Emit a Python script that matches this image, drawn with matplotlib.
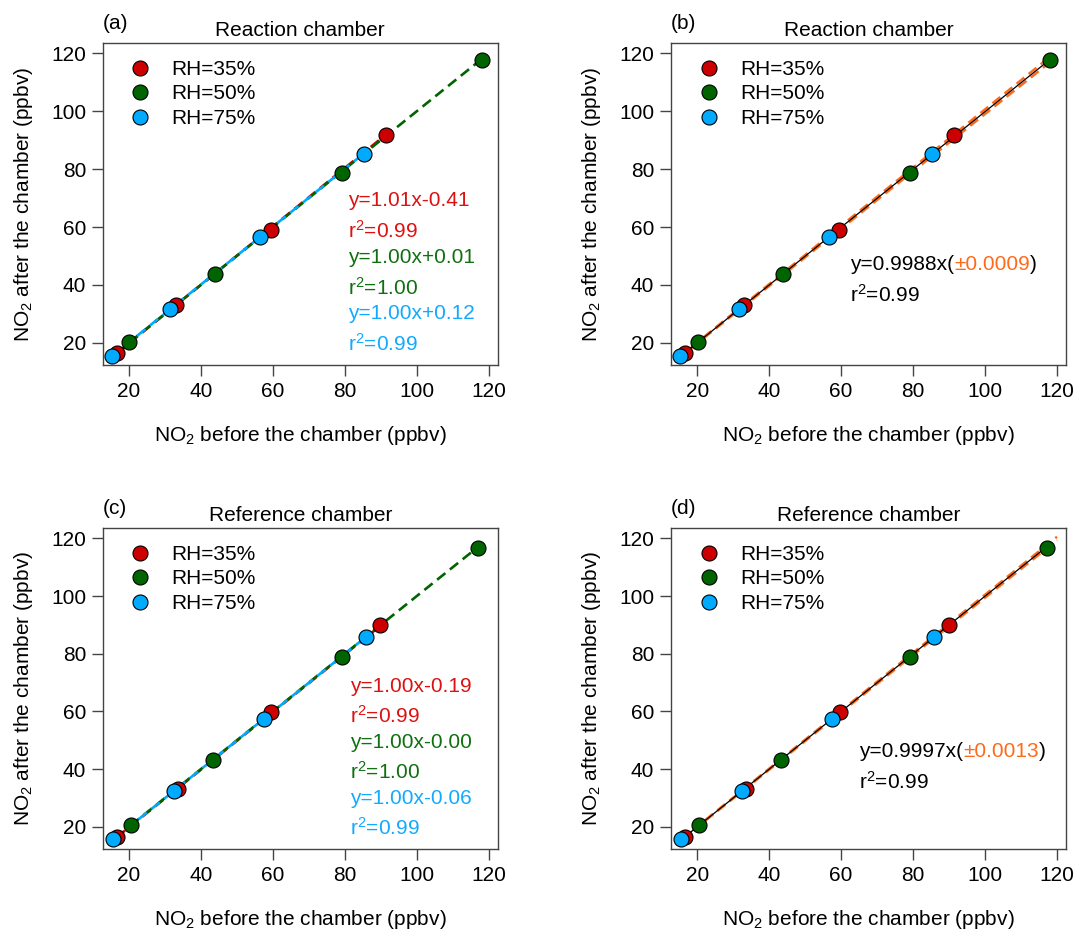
import matplotlib
matplotlib.use("Agg")
import matplotlib.pyplot as plt
import numpy as np

plt.rcParams['font.family'] = ['Liberation Sans', 'DejaVu Sans']
plt.rcParams['mathtext.default'] = 'regular'
plt.rcParams['mathtext.fontset'] = 'custom'
plt.rcParams['mathtext.rm'] = 'Liberation Sans'

# ---------------- data ----------------
rh_labels = ["RH=35%", "RH=50%", "RH=75%"]
rh_colors = ["#CC0000", "#006400", "#00AAFF"]
text_colors = ["#DD1111", "#107010", "#11AAFF"]
orange = "#FF6A1A"

# Reaction chamber (panels a, b)
react_x35 = [16.6, 33.0, 59.4, 91.5]
react_y35 = [16.4, 32.9, 59.1, 91.7]
react_x50 = [20.1, 43.8, 79.1, 118.1]
react_y50 = [20.2, 43.9, 78.8, 117.6]
react_x75 = [15.2, 31.5, 56.5, 85.2]
react_y75 = [15.3, 31.5, 56.7, 85.2]

# Reference chamber (panels c, d)
ref_x35 = [16.6, 33.5, 59.6, 89.9]
ref_y35 = [16.5, 33.1, 59.8, 90.0]
ref_x50 = [20.5, 43.3, 79.2, 117.1]
ref_y50 = [20.6, 43.2, 79.0, 116.8]
ref_x75 = [15.6, 32.4, 57.4, 85.9]
ref_y75 = [15.6, 32.3, 57.3, 85.8]

# Per-RH linear fits (slope, intercept) and labels
react_fits = [(1.01, -0.41), (1.00, 0.01), (1.00, 0.12)]
react_fit_text = [("y=1.01x-0.41", "r$^2$=0.99"),
                  ("y=1.00x+0.01", "r$^2$=1.00"),
                  ("y=1.00x+0.12", "r$^2$=0.99")]
ref_fits = [(1.00, -0.19), (1.00, -0.00), (1.00, -0.06)]
ref_fit_text = [("y=1.00x-0.19", "r$^2$=0.99"),
                ("y=1.00x-0.00", "r$^2$=1.00"),
                ("y=1.00x-0.06", "r$^2$=0.99")]

# Pooled fits through origin (slope, band slope offset) and labels
react_pool = (0.9988, 0.008)
react_pool_text = ("y=0.9988x(", "\u00b10.0009", ")", "r$^2$=0.99")
react_pool_range = (15.0, 118.0)
ref_pool = (0.9997, 0.005)
ref_pool_text = ("y=0.9997x(", "\u00b10.0013", ")", "r$^2$=0.99")
ref_pool_range = (15.5, 120.0)

xticks = [20, 40, 60, 80, 100, 120]
yticks = [20, 40, 60, 80, 100, 120]
xlim = (12.7, 122.5)
ylim = (12.2, 123.5)

FS = 15

fig = plt.figure(figsize=(10.78, 9.31), dpi=100)
W, H = 1078, 931
axes_px = {
    'a': (102.7, 43.3, 395, 322),
    'b': (671.0, 43.3, 395, 322),
    'c': (102.7, 528.3, 395, 321),
    'd': (671.0, 528.3, 395, 321),
}
axs = {}
for k, (l, t, w, h) in axes_px.items():
    axs[k] = fig.add_axes([l / W, 1 - (t + h) / H, w / W, h / H])

renderer = fig.canvas.get_renderer()


def style(ax, letter, title):
    ax.set_xlim(*xlim)
    ax.set_ylim(*ylim)
    ax.set_xticks(xticks)
    ax.set_yticks(yticks)
    ax.tick_params(direction='out', length=8, width=1.0, color='#444444',
                   labelsize=FS, pad=4)
    for s in ax.spines.values():
        s.set_color('#444444')
        s.set_linewidth(1.0)
    ax.set_xlabel("NO$_2$ before the chamber (ppbv)", fontsize=FS)
    ax.set_ylabel("NO$_2$ after the chamber (ppbv)", fontsize=FS)
    ax.xaxis.set_label_coords(0.5, -0.183)
    ax.yaxis.set_label_coords(-0.172, 0.5)
    ax.set_title(title, fontsize=FS, pad=5)
    ax.text(0.0, 1.031, "(%s)" % letter, transform=ax.transAxes,
            fontsize=FS, ha='left', va='bottom')


def scatter(ax, xs, ys):
    handles = []
    for x, y, c, lab in zip(xs, ys, rh_colors, rh_labels):
        h, = ax.plot(x, y, 'o', ms=10.8, mfc=c, mec='black', mew=0.8,
                     linestyle='none', label=lab, zorder=5)
        handles.append(h)
    ax.legend(handles=handles, loc='upper left', frameon=False,
              fontsize=FS, handletextpad=0.5, labelspacing=0.26,
              borderaxespad=0.45, borderpad=0.35)


def colored_text(ax, x, y, parts):
    xd = x
    for s, c in parts:
        t = ax.text(xd, y, s, color=c, fontsize=FS, ha='left', va='baseline')
        bb = t.get_window_extent(renderer)
        xd = ax.transData.inverted().transform((bb.x1, bb.y0))[0]


def per_rh_panel(ax, xs, fits, texts, text_x, text_ys):
    for x, (m, b), c in zip(xs, fits, rh_colors):
        xx = np.array([min(x), max(x)])
        ax.plot(xx, m * xx + b, color=c, lw=1.9, dashes=(4, 2.2), zorder=3)
    for i, ((l1, l2), c) in enumerate(zip(texts, text_colors)):
        ax.text(text_x, text_ys[2 * i], l1, color=c, fontsize=FS,
                ha='left', va='baseline')
        ax.text(text_x, text_ys[2 * i + 1], l2, color=c, fontsize=FS,
                ha='left', va='baseline')


def pooled_panel(ax, pool, rng, texts, tx, ty):
    m, dm = pool
    xx = np.array(rng)
    ax.plot(xx, (m + dm) * xx, color=orange, lw=1.8, dashes=(4, 2.2), zorder=2)
    ax.plot(xx, (m - dm) * xx, color=orange, lw=1.8, dashes=(4, 2.2), zorder=2)
    xb = np.array([rng[0], min(rng[1], 118.0)])
    ax.plot(xb, m * xb, color='black', lw=0.9, zorder=3)
    colored_text(ax, tx, ty[0], [(texts[0], 'black'), (texts[1], orange),
                                 (texts[2], 'black')])
    ax.text(tx, ty[1], texts[3], color='black', fontsize=FS,
            ha='left', va='baseline')


react_xs = [react_x35, react_x50, react_x75]
react_ys = [react_y35, react_y50, react_y75]
ref_xs = [ref_x35, ref_x50, ref_x75]
ref_ys = [ref_y35, ref_y50, ref_y75]

style(axs['a'], 'a', "Reaction chamber")
style(axs['b'], 'b', "Reaction chamber")
style(axs['c'], 'c', "Reference chamber")
style(axs['d'], 'd', "Reference chamber")

per_rh_panel(axs['a'], react_xs, react_fits, react_fit_text, 80.8,
             [67.2, 56.3, 47.7, 36.7, 28.1, 17.1])
scatter(axs['a'], react_xs, react_ys)

pooled_panel(axs['b'], react_pool, react_pool_range, react_pool_text,
             62.4, [45.3, 34.3])
scatter(axs['b'], react_xs, react_ys)

per_rh_panel(axs['c'], ref_xs, ref_fits, ref_fit_text, 81.4,
             [66.9, 56.0, 47.3, 36.7, 28.0, 17.1])
scatter(axs['c'], ref_xs, ref_ys)

pooled_panel(axs['d'], ref_pool, ref_pool_range, ref_pool_text,
             64.9, [44.1, 33.1])
scatter(axs['d'], ref_xs, ref_ys)

fig.savefig("out.png", dpi=100)
